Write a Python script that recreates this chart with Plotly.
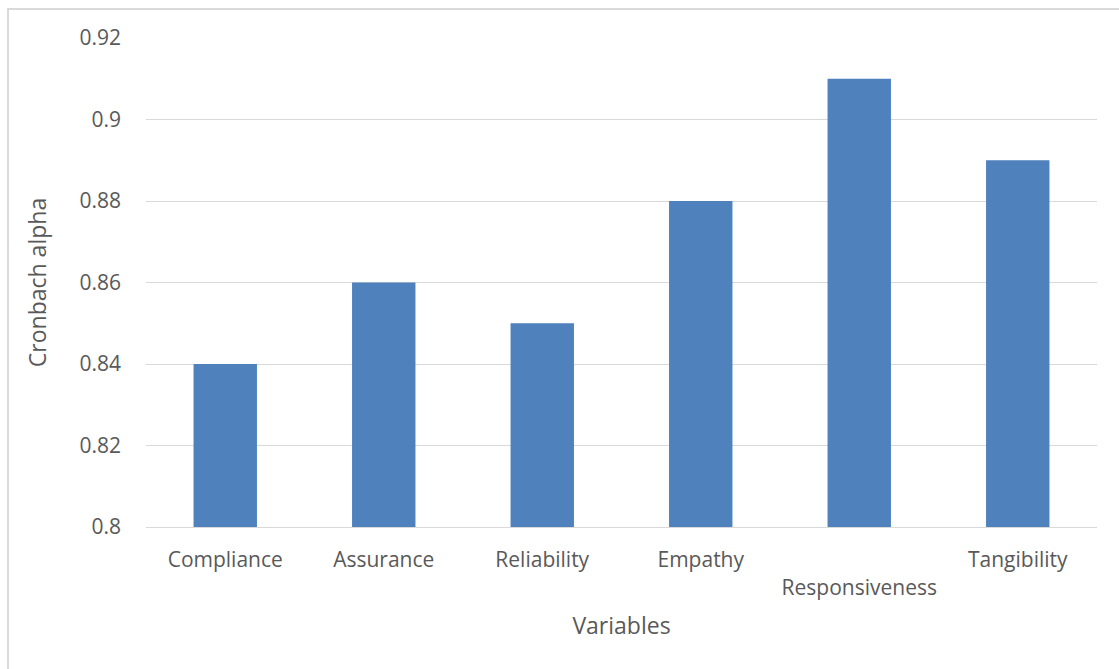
import plotly.graph_objects as go

categories = ["Compliance", "Assurance", "Reliability", "Empathy", "Responsiveness", "Tangibility"]
alpha_values = [0.84, 0.86, 0.85, 0.88, 0.91, 0.89]
tick_text = ["Compliance", "Assurance", "Reliability", "Empathy", "<br>Responsiveness", "Tangibility"]
y_ticks = [0.8, 0.82, 0.84, 0.86, 0.88, 0.9, 0.92]
y_tick_labels = ["0.8", "0.82", "0.84", "0.86", "0.88", "0.9", "0.92"]

FONT = "Open Sans, Liberation Sans, sans-serif"
GREY = "#595959"

fig = go.Figure(
    go.Bar(
        x=categories,
        y=alpha_values,
        marker=dict(color="#4f81bd", line=dict(width=0)),
        base=0,
    )
)

fig.update_layout(
    width=1119,
    height=669,
    margin=dict(l=146, r=22, t=38, b=142),
    paper_bgcolor="white",
    plot_bgcolor="white",
    bargap=0.6,
    showlegend=False,
    font=dict(family=FONT, size=21, color=GREY),
    shapes=[
        dict(
            type="rect", xref="paper", yref="paper",
            x0=-0.1451, x1=1.2, y0=-0.4, y1=1.0593,
            line=dict(color="#d9d9d9", width=2), layer="below",
        )
    ],
)

fig.update_xaxes(
    tickmode="array",
    tickvals=categories,
    ticktext=tick_text,
    showgrid=False,
    showline=True,
    linecolor="#d9d9d9",
    linewidth=1,
    ticks="",
    ticklabelstandoff=14,
    tickfont=dict(size=21, color=GREY, family=FONT),
    title=dict(text="Variables", font=dict(size=23, color=GREY, family=FONT), standoff=18),
)

fig.update_yaxes(
    range=[0.8, 0.92],
    tickmode="array",
    tickvals=y_ticks,
    ticktext=y_tick_labels,
    showgrid=True,
    gridcolor="#d9d9d9",
    gridwidth=1,
    zeroline=False,
    showline=False,
    ticks="",
    ticklabelstandoff=24,
    tickfont=dict(size=21, color=GREY, family=FONT),
    title=dict(text="Cronbach alpha", font=dict(size=23, color=GREY, family=FONT), standoff=26),
)

fig.write_html("out.html")
